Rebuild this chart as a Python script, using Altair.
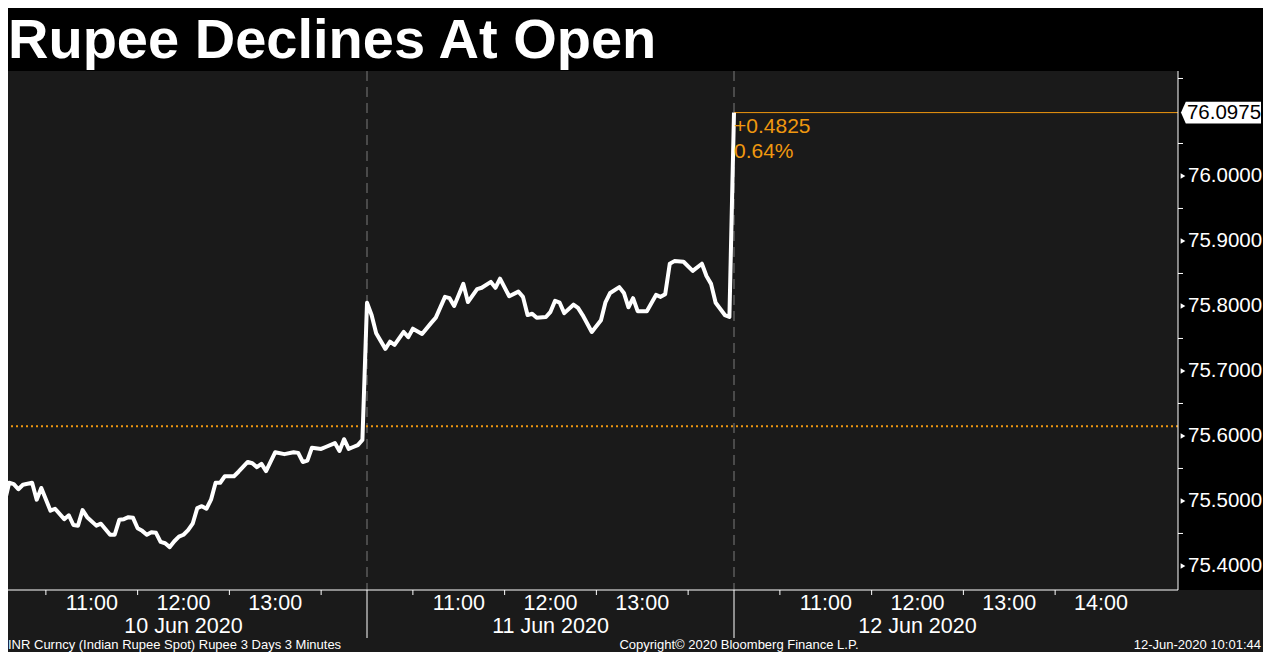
import altair as alt
import pandas as pd

# ---------------- data ----------------
title_text = "Rupee Declines At Open"
day_labels = ["10 Jun 2020", "11 Jun 2020", "12 Jun 2020"]
slot_minutes = 240  # each day slot: 10:00 - 14:00

# minutes after 10:00 and INR spot values (3-minute bars)
day1_min = [0, 3, 6, 9, 12, 15, 21, 24, 27, 33, 36, 42, 45, 48, 51, 54, 57, 63, 66,
            72, 75, 78, 81, 84, 87, 90, 93, 96, 99, 102, 105, 108, 111, 114, 117, 120,
            123, 126, 129, 132, 135, 138, 141, 144, 147, 153, 156, 162, 165, 168, 171,
            174, 180, 186, 192, 195, 198, 201, 204, 210, 213, 219, 222, 225, 228, 231,
            234, 237]
day1_val = [75.563, 75.498, 75.528, 75.526, 75.518, 75.525, 75.528, 75.502, 75.520,
            75.485, 75.488, 75.472, 75.478, 75.463, 75.462, 75.486, 75.475, 75.462,
            75.465, 75.448, 75.448, 75.471, 75.472, 75.475, 75.474, 75.458, 75.454,
            75.448, 75.452, 75.451, 75.437, 75.435, 75.429, 75.438, 75.445, 75.448,
            75.455, 75.465, 75.489, 75.492, 75.488, 75.502, 75.528, 75.528, 75.538,
            75.538, 75.545, 75.560, 75.558, 75.552, 75.557, 75.546, 75.575, 75.572,
            75.575, 75.574, 75.560, 75.562, 75.582, 75.580, 75.583, 75.589, 75.577,
            75.595, 75.580, 75.583, 75.586, 75.594]

day2_min = [0, 3, 6, 12, 15, 18, 24, 27, 30, 36, 42, 45, 51, 54, 57, 63, 66, 72, 75,
            81, 84, 87, 93, 99, 102, 105, 108, 111, 117, 120, 123, 126, 129, 135, 138,
            141, 147, 153, 156, 159, 165, 168, 171, 174, 177, 183, 189, 192, 195, 198,
            201, 207, 213, 219, 222, 225, 228, 234, 237]
day2_val = [75.805, 75.786, 75.758, 75.734, 75.745, 75.740, 75.760, 75.752, 75.765,
            75.757, 75.774, 75.782, 75.814, 75.812, 75.800, 75.834, 75.806, 75.826,
            75.828, 75.837, 75.828, 75.842, 75.815, 75.822, 75.814, 75.786, 75.788,
            75.782, 75.783, 75.791, 75.808, 75.805, 75.789, 75.802, 75.797, 75.786,
            75.760, 75.778, 75.806, 75.820, 75.829, 75.820, 75.798, 75.812, 75.792,
            75.792, 75.817, 75.814, 75.818, 75.865, 75.869, 75.868, 75.854, 75.865,
            75.846, 75.834, 75.805, 75.786, 75.783]

day3_min = [0]
day3_val = [76.0975]

prev_close = 75.615

y_major = [75.4, 75.5, 75.6, 75.7, 75.8, 75.9, 76.0]
y_minor = [75.45, 75.55, 75.65, 75.75, 75.85, 75.95, 76.05, 76.15]

hour_min = [[60, 120, 180], [60, 120, 180], [60, 120, 180, 240]]
hour_text = [["11:00", "12:00", "13:00"], ["11:00", "12:00", "13:00"],
             ["11:00", "12:00", "13:00", "14:00"]]
half_hour_min = [30, 90, 150, 210]

footer_left = "INR Curncy (Indian Rupee Spot) Rupee 3 Days 3 Minutes"
footer_mid = "Copyright\u00a9 2020 Bloomberg Finance L.P."
footer_right = "12-Jun-2020 10:01:44"

# ---------------- layout ----------------
W, H = 1170, 519
PAD_T, PAD_R, PAD_B = 63, 85, 62
ppm = 367 / slot_minutes
x_dom = [8 / ppm, 1178 / ppm]
y_dom = [75.363, 76.1615]

WHITE = "#ffffff"
ORANGE = "#f0980f"
PLOT_BG = "#1a1a1a"
FONT = "Liberation Sans"

xs = alt.Scale(domain=x_dom, nice=False, zero=False)
ys = alt.Scale(domain=y_dom, nice=False, zero=False)


def X(field):
    return alt.X(field, scale=xs, axis=None)


def Y(field):
    return alt.Y(field, scale=ys, axis=None)


rows = []
for d, (mins, vals) in enumerate([(day1_min, day1_val), (day2_min, day2_val), (day3_min, day3_val)]):
    for m, v in zip(mins, vals):
        rows.append({"t": d * slot_minutes + m, "v": v})
line_df = pd.DataFrame(rows)
last_v = day3_val[-1]
last_t = 2 * slot_minutes + day3_min[-1]
chg = last_v - prev_close
pct = chg / prev_close * 100

one = pd.DataFrame({"a": [0]})

# bottom strip background
strip = alt.Chart(one).mark_rect(color=PLOT_BG).encode(
    x=alt.value(0), x2=alt.value(W + PAD_R), y=alt.value(H), y2=alt.value(H + PAD_B))

day_df = pd.DataFrame({"t": [d * slot_minutes for d in range(3)],
                       "noon": [d * slot_minutes + 120 for d in range(3)],
                       "label": day_labels})
sep_df = day_df[day_df["t"] > 0]

dashed = alt.Chart(sep_df).mark_rule(color="#7a7a7a", strokeWidth=1, strokeDash=[10, 6]).encode(
    x=X("t:Q"))

sep_axis = alt.Chart(sep_df).mark_rule(color=WHITE, strokeWidth=1).encode(
    x=X("t:Q"), y=alt.value(H), y2=alt.value(H + 48))

prev_rule = alt.Chart(pd.DataFrame({"v": [prev_close]})).mark_rule(
    color=ORANGE, strokeWidth=2, strokeDash=[2, 3]).encode(y=Y("v:Q"))

last_df = pd.DataFrame({"t": [last_t], "v": [last_v]})
last_rule = alt.Chart(last_df).mark_rule(color=ORANGE, strokeWidth=1).encode(
    x=X("t:Q"), x2=alt.value(W), y=Y("v:Q"))

line = alt.Chart(line_df).mark_line(color=WHITE, strokeWidth=4, clip=True,
                                    strokeJoin="round").encode(x=X("t:Q"), y=Y("v:Q"))

# axis lines and ticks
x_domain_line = alt.Chart(one).mark_rule(color=WHITE, strokeWidth=1).encode(
    x=alt.value(0), x2=alt.value(W), y=alt.value(H))
y_domain_line = alt.Chart(one).mark_rule(color=WHITE, strokeWidth=1).encode(
    x=alt.value(W), y=alt.value(0), y2=alt.value(H))
half_df = pd.DataFrame({"t": [d * slot_minutes + m for d in range(3) for m in half_hour_min]})
x_ticks = alt.Chart(half_df).mark_rule(color=WHITE, strokeWidth=1).encode(
    x=X("t:Q"), y=alt.value(H), y2=alt.value(H + 5))

ann_df = pd.DataFrame({"t": [last_t, last_t], "v": [last_v, last_v],
                       "label": [f"+{chg:.4f}", f"{pct:.2f}%"]})
ann1 = alt.Chart(ann_df.iloc[[0]]).mark_text(color=ORANGE, font=FONT, fontSize=21, align="left",
                                             baseline="middle", dx=0, dy=14).encode(
    x=X("t:Q"), y=Y("v:Q"), text="label:N")
ann2 = alt.Chart(ann_df.iloc[[1]]).mark_text(color=ORANGE, font=FONT, fontSize=21, align="left",
                                             baseline="middle", dx=0, dy=39).encode(
    x=X("t:Q"), y=Y("v:Q"), text="label:N")

tag_shape = "M-1,0L-0.88,-0.27L1,-0.27L1,0.27L-0.88,0.27Z"
tag = alt.Chart(last_df).mark_point(shape=tag_shape, filled=True, color=WHITE, opacity=1,
                                    size=80 * 80).encode(x=alt.value(W + 43), y=Y("v:Q"))
tag_text = alt.Chart(last_df).mark_text(color="#000000", font=FONT, fontSize=20.5,
                                        align="center", baseline="middle").encode(
    x=alt.value(W + 46), y=Y("v:Q"), text=alt.Text("v:Q", format=".4f"))

ymaj_df = pd.DataFrame({"v": y_major})
tri = alt.Chart(ymaj_df).mark_point(
    shape="triangle-right", filled=True, color=WHITE, opacity=1, size=30).encode(
    x=alt.value(W + 5), y=Y("v:Q"))
y_labels = alt.Chart(ymaj_df).mark_text(color=WHITE, font=FONT, fontSize=20.5, align="left",
                                        baseline="middle").encode(
    x=alt.value(W + 10), y=Y("v:Q"), text=alt.Text("v:Q", format=".4f"))
minor = alt.Chart(pd.DataFrame({"v": y_minor})).mark_rule(color=WHITE, strokeWidth=1).encode(
    x=alt.value(W), x2=alt.value(W + 5), y=Y("v:Q"))

hour_df = pd.DataFrame([{"t": d * slot_minutes + m, "label": s}
                        for d in range(3) for m, s in zip(hour_min[d], hour_text[d])])
hours = alt.Chart(hour_df).mark_text(color=WHITE, font=FONT, fontSize=21.5,
                                     baseline="middle").encode(
    x=X("t:Q"), y=alt.value(H + 14), text="label:N")
dates = alt.Chart(day_df).mark_text(color=WHITE, font=FONT, fontSize=21.5,
                                    baseline="middle").encode(
    x=X("noon:Q"), y=alt.value(H + 37), text="label:N")


def footer(txt, xpos, align):
    return alt.Chart(pd.DataFrame({"label": [txt]})).mark_text(
        color=WHITE, font=FONT, fontSize=13, align=align, baseline="middle").encode(
        x=alt.value(xpos), y=alt.value(H + 55), text="label:N")


title = alt.Chart(pd.DataFrame({"label": [title_text]})).mark_text(
    color=WHITE, font=FONT, fontSize=56, fontWeight="bold", align="left",
    baseline="alphabetic").encode(x=alt.value(0), y=alt.value(-13), text="label:N")

chart = alt.layer(
    strip, dashed, sep_axis, prev_rule, last_rule, line, x_domain_line, y_domain_line,
    x_ticks, ann1, ann2, tag, tag_text, tri, y_labels, minor, hours, dates,
    footer(footer_left, 0, "left"), footer(footer_mid, 731, "center"),
    footer(footer_right, W + PAD_R - 2, "right"), title
).properties(
    width=W, height=H,
    padding={"left": 0, "top": PAD_T, "right": PAD_R, "bottom": PAD_B},
    autosize=alt.AutoSizeParams(type="none"),
    background="#000000"
).configure_view(fill=PLOT_BG, strokeWidth=0)

chart.save("out.html", embed_options={"renderer": "svg", "actions": False})
